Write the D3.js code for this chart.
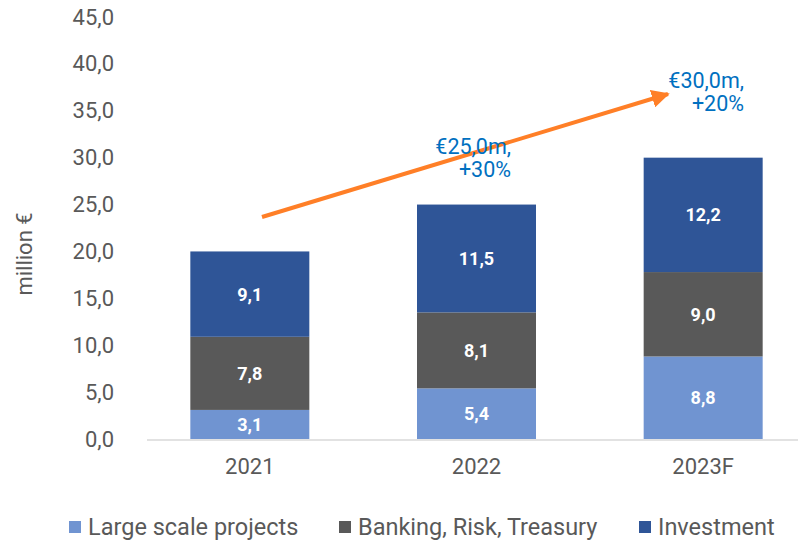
<!DOCTYPE html>
<html>
<head>
<meta charset="utf-8">
<script src="https://cdn.jsdelivr.net/npm/d3@7"></script>
<style>
  html, body { margin: 0; padding: 0; background: #fff; }
  svg { display: block; font-family: Roboto, "Noto Sans", sans-serif; }
</style>
</head>
<body>
<svg id="chart" width="798" height="541"></svg>
<script>
const years = ['2021', '2022', '2023F'];
const seriesNames = ['Large scale projects', 'Banking, Risk, Treasury', 'Investment'];
const largeScale = [3.1, 5.4, 8.8];
const banking = [7.8, 8.1, 9.0];
const investment = [9.1, 11.5, 12.2];
const yTicks = [0, 5, 10, 15, 20, 25, 30, 35, 40, 45];
const notes = [
  { year: '2022', lines: ['€25,0m,', '+30%'] },
  { year: '2023F', lines: ['€30,0m,', '+20%'] },
];
const colors = ['#7094D1', '#595959', '#2F5597'];

const fmt = v => d3.format('.1f')(v).replace('.', ',');

const svg = d3.select('#chart');

const x = d3.scaleBand().domain(years).range([136.5, 816.5]).paddingInner(0.475).paddingOuter(0.2375);
const y = d3.scaleLinear().domain([0, 45]).range([439, 17]);

// build rows for the stack
const rows = years.map((yr, i) => ({
  year: yr,
  [seriesNames[0]]: largeScale[i],
  [seriesNames[1]]: banking[i],
  [seriesNames[2]]: investment[i],
}));
const stacked = d3.stack().keys(seriesNames)(rows);

// y axis labels (no line, no ticks)
const yAxis = svg.append('g')
  .attr('transform', 'translate(114,0)')
  .call(d3.axisLeft(y).tickValues(yTicks).tickFormat(fmt).tickSize(0).tickPadding(0));
yAxis.select('.domain').remove();
yAxis.selectAll('text')
  .attr('fill', '#595959')
  .style('font-size', '22px')
  .style('font-family', 'Roboto');

svg.append('text')
  .attr('transform', 'translate(32,254) rotate(-90)')
  .attr('text-anchor', 'middle')
  .attr('fill', '#595959')
  .style('font-size', '22px')
  .text('million €');

// bars
const layer = svg.append('g').selectAll('g')
  .data(stacked)
  .join('g')
  .attr('fill', (d, i) => colors[i]);

layer.selectAll('rect')
  .data(d => d)
  .join('rect')
  .attr('x', d => x(d.data.year))
  .attr('y', d => y(d[1]))
  .attr('width', x.bandwidth())
  .attr('height', d => y(d[0]) - y(d[1]));

// value labels
layer.selectAll('text')
  .data(d => d)
  .join('text')
  .attr('x', d => x(d.data.year) + x.bandwidth() / 2)
  .attr('y', d => (y(d[0]) + y(d[1])) / 2)
  .attr('dy', '0.36em')
  .attr('text-anchor', 'middle')
  .attr('fill', '#fff')
  .style('font-size', '18px')
  .style('font-weight', 'bold')
  .text(d => fmt(d[1] - d[0]));

// baseline
svg.append('line')
  .attr('x1', 147).attr('x2', 798)
  .attr('y1', y(0) + 1).attr('y2', y(0) + 1)
  .attr('stroke', '#D9D9D9')
  .attr('stroke-width', 1.5);

// x axis labels
const xAxis = svg.append('g')
  .attr('transform', 'translate(0,458)')
  .call(d3.axisBottom(x).tickSize(0).tickPadding(0));
xAxis.select('.domain').remove();
xAxis.selectAll('text')
  .attr('fill', '#595959')
  .style('font-size', '22px')
  .style('font-family', 'Roboto');

// growth arrow
svg.append('defs').append('marker')
  .attr('id', 'head')
  .attr('viewBox', '0 0 10 10')
  .attr('refX', 9).attr('refY', 5)
  .attr('markerWidth', 4.5).attr('markerHeight', 4.5)
  .attr('orient', 'auto')
  .append('path')
  .attr('d', 'M0,0 L10,5 L0,10 Z')
  .attr('fill', '#FF7F27');

svg.append('line')
  .attr('x1', 262).attr('y1', 217)
  .attr('x2', 668).attr('y2', 94)
  .attr('stroke', '#FF7F27')
  .attr('stroke-width', 4)
  .attr('marker-end', 'url(#head)');

// annotations
const noteRight = { '2022': 511, '2023F': 744 };
const noteBase = { '2022': 154, '2023F': 88 };
notes.forEach(n => {
  svg.append('text')
    .attr('text-anchor', 'end')
    .attr('fill', '#0070C0')
    .style('font-size', '21.5px')
    .selectAll('tspan')
    .data(n.lines)
    .join('tspan')
    .attr('x', noteRight[n.year])
    .attr('y', (d, i) => noteBase[n.year] + i * 23)
    .text(d => d);
});

// legend
const legendX = [69, 339, 639];
const legend = svg.append('g').selectAll('g')
  .data(seriesNames)
  .join('g')
  .attr('transform', (d, i) => `translate(${legendX[i]},521)`);
legend.append('rect')
  .attr('width', 12).attr('height', 12)
  .attr('fill', (d, i) => colors[i]);
legend.append('text')
  .attr('x', 19).attr('y', 13.5)
  .attr('fill', '#595959')
  .style('font-size', '23.5px')
  .text(d => d);
</script>
</body>
</html>
